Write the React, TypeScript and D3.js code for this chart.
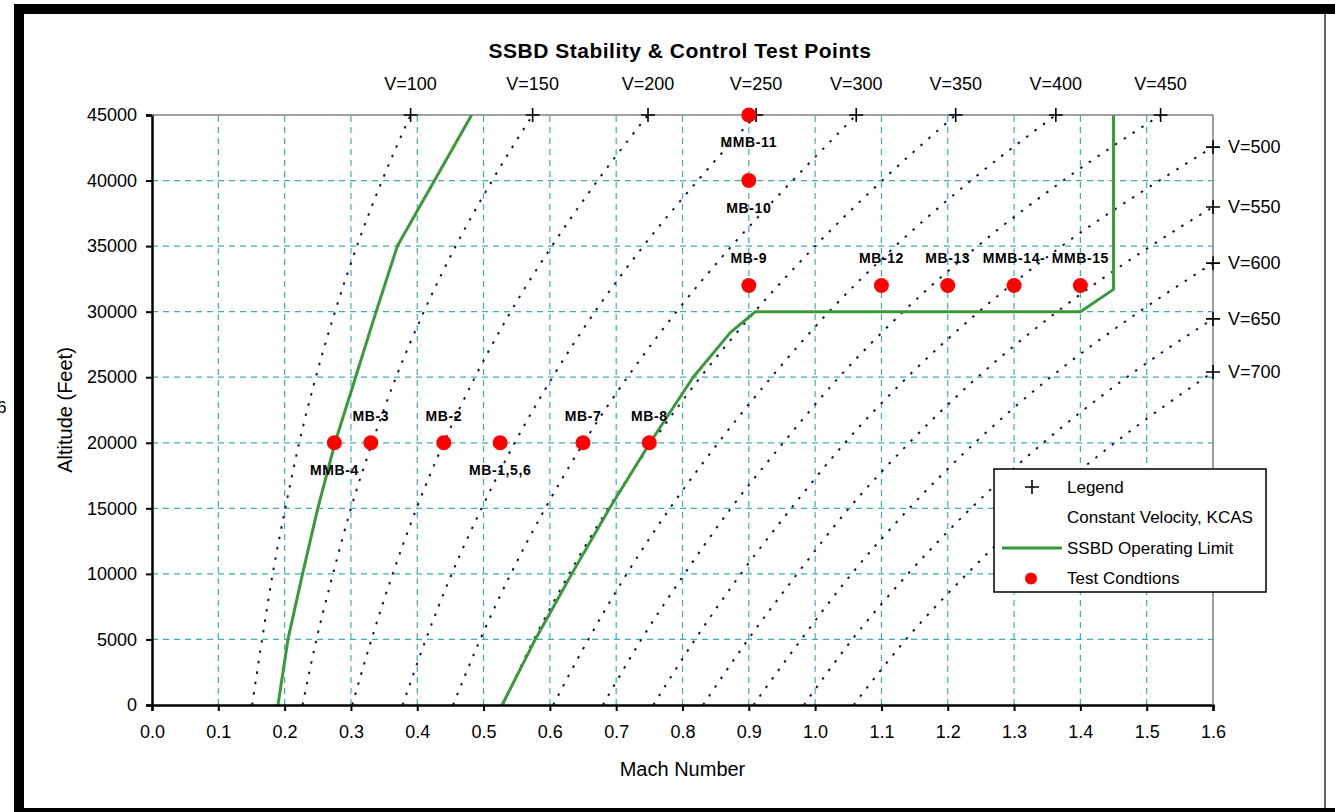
import * as React from 'react'
import * as d3 from 'd3'

// altitude levels (ft) at which the constant-velocity lines were read
const altitudeLevels = [0, 5000, 10000, 15000, 20000, 25000, 30000, 35000, 40000, 45000]

// constant velocity lines (KCAS) ending on the top edge
const kcasTop = [100, 150, 200, 250, 300, 350, 400, 450]
const machV100 = [0.151, 0.166, 0.182, 0.201, 0.222, 0.247, 0.276, 0.309, 0.347, 0.390]
const machV150 = [0.227, 0.248, 0.273, 0.300, 0.332, 0.368, 0.410, 0.458, 0.513, 0.574]
const machV200 = [0.302, 0.331, 0.363, 0.399, 0.440, 0.487, 0.541, 0.603, 0.672, 0.748]
const machV250 = [0.378, 0.413, 0.452, 0.497, 0.547, 0.604, 0.668, 0.741, 0.823, 0.911]
const machV300 = [0.454, 0.495, 0.541, 0.593, 0.651, 0.717, 0.791, 0.874, 0.966, 1.062]
const machV350 = [0.529, 0.576, 0.629, 0.688, 0.754, 0.827, 0.909, 1.000, 1.101, 1.212]
const machV400 = [0.605, 0.658, 0.716, 0.781, 0.854, 0.934, 1.021, 1.121, 1.235, 1.363]
const machV450 = [0.680, 0.738, 0.803, 0.873, 0.952, 1.036, 1.133, 1.245, 1.374, 1.521]

// constant velocity lines ending on the right edge (Mach 1.6)
const kcasSide = [500, 550, 600, 650, 700]
const machV500 = [0.756, 0.819, 0.888, 0.964, 1.045, 1.139, 1.247, 1.372, 1.519]
const machV550 = [0.831, 0.899, 0.973, 1.051, 1.142, 1.245, 1.365, 1.506]
const machV600 = [0.907, 0.979, 1.055, 1.142, 1.241, 1.355, 1.489]
const machV650 = [0.983, 1.056, 1.140, 1.235, 1.344, 1.470]
const machV700 = [1.058, 1.137, 1.229, 1.332, 1.452]
const sideEdgeAltitude = [42550, 37980, 33700, 29450, 25400]

const topLines = [machV100, machV150, machV200, machV250, machV300, machV350, machV400, machV450]
const sideLines = [machV500, machV550, machV600, machV650, machV700]

// SSBD operating limit
const limitLowMach = [0.190, 0.205, 0.227, 0.250, 0.276, 0.307, 0.338, 0.370, 0.426, 0.482]
const limitLowAlt = [0, 5000, 10000, 15000, 20000, 25000, 30000, 35000, 40000, 45000]
const limitHighMach = [0.528, 0.578, 0.633, 0.690, 0.751, 0.816, 0.872, 0.910, 1.400, 1.450, 1.450]
const limitHighAlt = [0, 5000, 10000, 15000, 20000, 25000, 28400, 30000, 30000, 31700, 45000]

// test conditions
const testNames = ['MMB-4', 'MB-3', 'MB-2', 'MB-1,5,6', 'MB-7', 'MB-8', 'MB-9', 'MB-10', 'MMB-11', 'MB-12', 'MB-13', 'MMB-14-', 'MMB-15']
const testMach = [0.275, 0.33, 0.44, 0.525, 0.65, 0.75, 0.9, 0.9, 0.9, 1.1, 1.2, 1.3, 1.4]
const testAlt = [20000, 20000, 20000, 20000, 20000, 20000, 32000, 40000, 45000, 32000, 32000, 32000, 32000]
const labelsBelow = ['MMB-4', 'MB-1,5,6', 'MB-10', 'MMB-11']

const legendItems = ['Legend', 'Constant Velocity, KCAS', 'SSBD Operating Limit', 'Test Condtions']

interface Pt { mach: number, alt: number }

const FONT = "'Liberation Sans', Arial, sans-serif"
const GREEN = '#3a9a3a'

export default class App extends React.Component<{}, {}> {
    private node: SVGSVGElement | null = null

    componentDidMount() {
        this.draw()
    }

    private draw(): void {
        if (!this.node)
            return
        const svg = d3.select(this.node)
        svg.selectAll('*').remove()

        const x = d3.scaleLinear().domain([0, 1.6]).range([152, 1213])
        const y = d3.scaleLinear().domain([0, 45000]).range([705, 115])
        const [x0, x1] = x.range()
        const [y0, y1] = y.range()

        svg.append('rect').attr('width', 1335).attr('height', 812).attr('fill', '#fff')

        // frame
        svg.append('rect').attr('x', 14).attr('y', 4).attr('width', 1321).attr('height', 10).attr('fill', '#000')
        svg.append('rect').attr('x', 14).attr('y', 4).attr('width', 10).attr('height', 808).attr('fill', '#000')
        svg.append('rect').attr('x', 14).attr('y', 808).attr('width', 1321).attr('height', 4).attr('fill', '#000')
        svg.append('line').attr('x1', 1325).attr('x2', 1325).attr('y1', 14).attr('y2', 808)
            .attr('stroke', '#333').attr('stroke-width', 1.5)
        svg.append('text').attr('x', -3).attr('y', 413).attr('font-size', 17).attr('font-family', FONT).text('6')

        const g = svg.append('g').attr('font-family', FONT)

        // grid
        const xTicks = x.ticks(16)
        g.append('g').selectAll('line')
            .data(xTicks.filter(t => t > 0 && t < 1.6))
            .enter().append('line')
            .attr('x1', d => x(d)).attr('x2', d => x(d))
            .attr('y1', y0).attr('y2', y1)
            .attr('stroke', '#3fb0b0').attr('stroke-width', 1.2).attr('stroke-dasharray', '6 5')
        g.append('g').selectAll('line')
            .data(altitudeLevels.filter(a => a > 0 && a < 45000))
            .enter().append('line')
            .attr('x1', x0).attr('x2', x1)
            .attr('y1', d => y(d)).attr('y2', d => y(d))
            .attr('stroke', '#3fb0b0').attr('stroke-width', 1.2).attr('stroke-dasharray', '6 5')

        svg.append('clipPath').attr('id', 'plot-clip')
            .append('rect').attr('x', x0).attr('y', y1 - 1).attr('width', x1 - x0 + 1).attr('height', y0 - y1 + 2)

        const line = d3.line<Pt>().x(d => x(d.mach)).y(d => y(d.alt))
        const smooth = d3.line<Pt>().x(d => x(d.mach)).y(d => y(d.alt)).curve(d3.curveMonotoneX)

        const topPts = topLines.map(ms => ms.map((m, i) => ({ mach: m, alt: altitudeLevels[i] })))
        const sidePts = sideLines.map((ms, k) => ms.map((m, i) => ({ mach: m, alt: altitudeLevels[i] }))
            .concat([{ mach: x.domain()[1], alt: sideEdgeAltitude[k] }]))

        // constant velocity lines
        const vel = g.append('g').attr('clip-path', 'url(#plot-clip)')
        vel.selectAll('path')
            .data(topPts.concat(sidePts))
            .enter().append('path')
            .attr('d', d => smooth(d))
            .attr('fill', 'none')
            .attr('stroke', '#14144a')
            .attr('stroke-width', 2)
            .attr('stroke-dasharray', '2.5 8')

        // operating limit
        const lowPts = limitLowMach.map((m, i) => ({ mach: m, alt: limitLowAlt[i] }))
        const highPts = limitHighMach.map((m, i) => ({ mach: m, alt: limitHighAlt[i] }))
        g.append('path').datum(lowPts).attr('d', line)
            .attr('fill', 'none').attr('stroke', GREEN).attr('stroke-width', 3).attr('stroke-linejoin', 'round')
        g.append('path').datum(highPts).attr('d', line)
            .attr('fill', 'none').attr('stroke', GREEN).attr('stroke-width', 3).attr('stroke-linejoin', 'round')

        // axes
        const left = g.append('g').attr('transform', `translate(${x0},0)`)
            .call(d3.axisLeft(y).tickValues(altitudeLevels).tickSize(6).tickPadding(9).tickFormat(d3.format('d')))
        left.select('.domain').attr('stroke', '#000').attr('stroke-width', 2.5)
        left.selectAll('.tick line').attr('stroke-width', 2)
        left.selectAll('text').attr('font-size', 18).attr('font-family', FONT).attr('fill', '#000')

        const bottom = g.append('g').attr('transform', `translate(0,${y0})`)
            .call(d3.axisBottom(x).tickValues(xTicks).tickSize(6).tickPadding(14).tickFormat(d3.format('.1f')))
        bottom.select('.domain').attr('stroke', '#000').attr('stroke-width', 2.5)
        bottom.selectAll('.tick line').attr('stroke-width', 2)
        bottom.selectAll('text').attr('font-size', 18).attr('font-family', FONT).attr('fill', '#000')

        // top and right border
        g.append('line').attr('x1', x0).attr('x2', x1).attr('y1', y1).attr('y2', y1)
            .attr('stroke', '#808080').attr('stroke-width', 1.5)
        g.append('line').attr('x1', x1).attr('x2', x1).attr('y1', y1).attr('y2', y0)
            .attr('stroke', '#808080').attr('stroke-width', 1.5)

        // axis titles
        g.append('text').attr('x', (x0 + x1) / 2).attr('y', 776).attr('text-anchor', 'middle')
            .attr('font-size', 20).text('Mach Number')
        g.append('text').attr('transform', `translate(72,${(y0 + y1) / 2}) rotate(-90)`)
            .attr('text-anchor', 'middle').attr('font-size', 20).text('Altitude (Feet)')
        g.append('text').attr('x', 680).attr('y', 58).attr('text-anchor', 'middle')
            .attr('font-size', 21).attr('font-weight', 'bold').attr('letter-spacing', 0.5)
            .text('SSBD Stability & Control Test Points')

        const plus = (sel: d3.Selection<SVGGElement, unknown, null, undefined>, cx: number, cy: number) => {
            sel.append('path')
                .attr('d', `M${cx - 7},${cy}H${cx + 7}M${cx},${cy - 7}V${cy + 7}`)
                .attr('stroke', '#000').attr('stroke-width', 1.6)
        }

        // end markers and velocity labels
        const ends = g.append('g')
        topPts.forEach((pts, k) => {
            const last = pts[pts.length - 1]
            plus(ends, x(last.mach), y(last.alt))
            ends.append('text').attr('x', x(last.mach)).attr('y', 90).attr('text-anchor', 'middle')
                .attr('font-size', 18).text(`V=${kcasTop[k]}`)
        })
        sidePts.forEach((pts, k) => {
            const last = pts[pts.length - 1]
            plus(ends, x(last.mach), y(last.alt))
            ends.append('text').attr('x', x(last.mach) + 15).attr('y', y(last.alt))
                .attr('dominant-baseline', 'central').attr('font-size', 18).text(`V=${kcasSide[k]}`)
        })

        // test conditions
        const tests = g.append('g')
        testNames.forEach((name, i) => {
            const cx = x(testMach[i])
            const cy = y(testAlt[i])
            tests.append('circle').attr('cx', cx).attr('cy', cy).attr('r', 7.5).attr('fill', '#ff0000')
            const below = labelsBelow.indexOf(name) >= 0
            tests.append('text').attr('x', cx).attr('y', below ? cy + 32 : cy - 22)
                .attr('text-anchor', 'middle').attr('font-size', 14).attr('font-weight', 'bold')
                .attr('letter-spacing', 0.6).text(name)
        })

        // legend
        const lg = g.append('g').attr('transform', 'translate(994,469)')
        lg.append('rect').attr('width', 272).attr('height', 123).attr('fill', '#fff')
            .attr('stroke', '#000').attr('stroke-width', 1.5)
        legendItems.forEach((label, i) => {
            const cy = 18 + i * 30.5
            lg.append('text').attr('x', 73).attr('y', cy).attr('dominant-baseline', 'central')
                .attr('font-size', 17).text(label)
            if (i === 0) plus(lg, 38, cy)
            if (i === 2) lg.append('line').attr('x1', 8).attr('x2', 68).attr('y1', cy).attr('y2', cy)
                .attr('stroke', GREEN).attr('stroke-width', 3)
            if (i === 3) lg.append('circle').attr('cx', 37).attr('cy', cy).attr('r', 6).attr('fill', '#ff0000')
        })
    }

    render() {
        return (
            <svg
                width={1335}
                height={812}
                style={{ position: 'absolute', left: 0, top: 0 }}
                ref={node => { this.node = node }} />
        )
    }
}
